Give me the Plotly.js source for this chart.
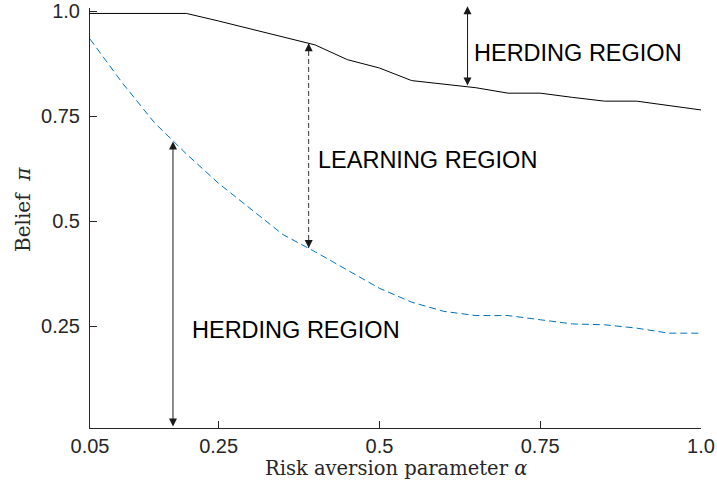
<!DOCTYPE html>
<html>
<head>
<meta charset="utf-8">
<script src="https://cdn.plot.ly/plotly-3.0.1.min.js"></script>
<style>html,body{margin:0;padding:0;background:#fff;}#chart{width:717px;height:481px;}</style>
</head>
<body>
<div id="chart"></div>
<script>
// Data
var alpha = [0.05,0.10,0.15,0.20,0.25,0.30,0.35,0.40,0.45,0.50,0.55,0.60,0.65,0.70,0.75,0.80,0.85,0.90,0.95,1.00];
var upperBelief = [0.995,0.995,0.995,0.995,0.977,0.958,0.940,0.920,0.885,0.865,0.835,0.826,0.818,0.805,0.805,0.795,0.786,0.786,0.776,0.765];
var lowerBelief = [0.934,0.830,0.735,0.660,0.590,0.528,0.468,0.427,0.383,0.340,0.307,0.285,0.275,0.275,0.265,0.255,0.253,0.245,0.233,0.233];

var xTickVals = [0.05,0.25,0.5,0.75,1.0];
var xTickText = ['0.05','0.25','0.5','0.75','1.0'];
var yTickVals = [0.25,0.5,0.75,1.0];
var yTickText = ['0.25','0.5','0.75','1.0'];

// Arrows: x position, low end, high end
var arrowX    = [0.179, 0.390, 0.637];
var arrowLow  = [0.007, 0.436, 0.820];
var arrowHigh = [0.690, 0.924, 1.012];

// Region labels
var labelText = ['HERDING REGION','LEARNING REGION','HERDING REGION'];
var labelX = [0.370, 0.575, 0.808];
var labelY = [0.240, 0.646, 0.900];

var traces = [
  {x: alpha, y: upperBelief, mode: 'lines', line: {color: '#000000', width: 1}, hoverinfo: 'skip'},
  {x: alpha, y: lowerBelief, mode: 'lines', line: {color: '#0072BD', width: 1, dash: '7px,4px'}, hoverinfo: 'skip'}
];

var ann = [];
var shapes = [];
var arrowColor = '#1a1a1a';
// solid double arrows (0 and 2)
[0, 2].forEach(function(i) {
  ann.push({x: arrowX[i], y: arrowHigh[i], ax: arrowX[i], ay: arrowLow[i], xref: 'x', yref: 'y', axref: 'x', ayref: 'y',
    text: '', showarrow: true, arrowhead: 2, startarrowhead: 2, arrowside: 'end+start', arrowsize: 1.6, startarrowsize: 1.6, arrowwidth: 1, arrowcolor: arrowColor});
});
// dashed double arrow (1)
shapes.push({type: 'line', xref: 'x', yref: 'y', x0: arrowX[1], x1: arrowX[1], y0: arrowLow[1], y1: arrowHigh[1],
  line: {color: '#333333', width: 1, dash: '5px,3px'}});
ann.push({x: arrowX[1], y: arrowHigh[1], xref: 'x', yref: 'y', ax: 0, ay: 7, text: '', showarrow: true, arrowhead: 2, arrowsize: 1.6, arrowwidth: 1, arrowcolor: arrowColor});
ann.push({x: arrowX[1], y: arrowLow[1], xref: 'x', yref: 'y', ax: 0, ay: -7, text: '', showarrow: true, arrowhead: 2, arrowsize: 1.6, arrowwidth: 1, arrowcolor: arrowColor});

for (var k = 0; k < labelText.length; k++) {
  ann.push({x: labelX[k], y: labelY[k], xref: 'x', yref: 'y', text: labelText[k], showarrow: false,
    font: {family: 'Liberation Sans, Arial, sans-serif', size: 23.5, color: '#000'}, xanchor: 'center', yanchor: 'middle'});
}
// axis titles
ann.push({x: 0.5, y: 0, xref: 'paper', yref: 'paper', yshift: -40, text: 'Risk aversion parameter <i>α</i>', showarrow: false,
  font: {family: 'DejaVu Serif, serif', size: 19.5, color: '#262626'}, xanchor: 'center', yanchor: 'middle'});
ann.push({x: 0, y: 0.5, xref: 'paper', yref: 'paper', xshift: -67, yshift: 8, text: 'Belief&nbsp;&nbsp;<i>π</i>', textangle: -90, showarrow: false,
  font: {family: 'DejaVu Serif, serif', size: 20, color: '#262626'}, xanchor: 'center', yanchor: 'middle'});

var axisCommon = {
  showline: true, linecolor: '#262626', linewidth: 1, mirror: false,
  ticks: 'inside', ticklen: 7, tickwidth: 1, tickcolor: '#262626',
  showgrid: false, zeroline: false,
  tickfont: {family: 'Liberation Sans, Arial, sans-serif', size: 20, color: '#262626'}
};

var layout = {
  width: 717, height: 481,
  margin: {l: 90, r: 16, t: 8, b: 53},
  paper_bgcolor: '#ffffff', plot_bgcolor: '#ffffff',
  showlegend: false,
  xaxis: Object.assign({}, axisCommon, {range: [0.05, 1.0], tickmode: 'array', tickvals: xTickVals, ticktext: xTickText, ticklabelstandoff: 0}),
  yaxis: Object.assign({}, axisCommon, {range: [0.007, 1.008], tickmode: 'array', tickvals: yTickVals, ticktext: yTickText, ticklabelstandoff: 5}),
  annotations: ann,
  shapes: shapes
};

Plotly.newPlot('chart', traces, layout, {staticPlot: true, displayModeBar: false});
</script>
</body>
</html>
